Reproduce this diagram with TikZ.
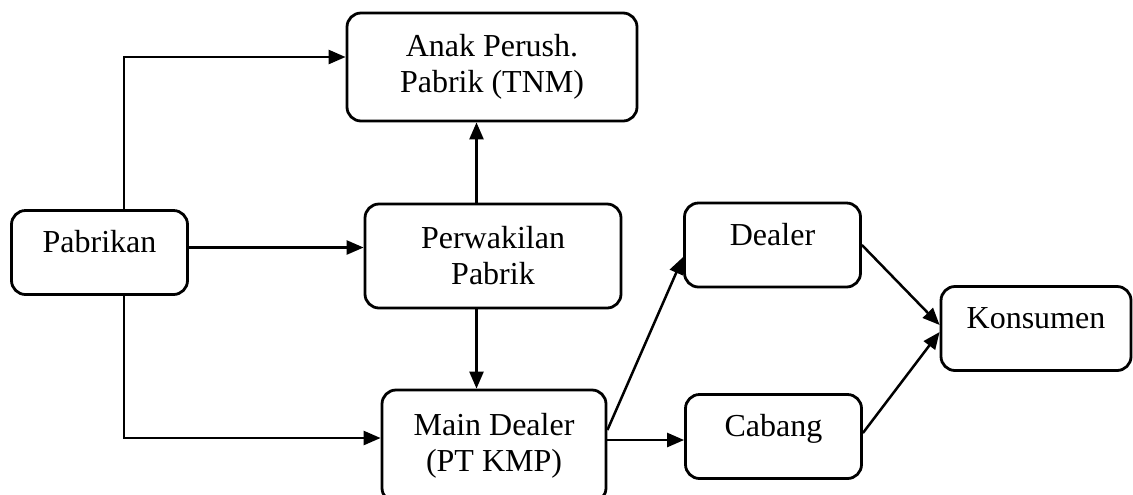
\documentclass[tikz,border=0pt]{standalone}
\usepackage{fontspec}
\setmainfont{Liberation Serif}
\usetikzlibrary{arrows.meta,calc}
\begin{document}
\begin{tikzpicture}[x=0.5pt,y=-0.5pt,
  box/.style={draw, line width=1.4pt, rounded corners=7pt, align=center, inner sep=0pt,
              font=\fontsize{16}{18}\selectfont},
  one/.style={box, text height=21pt, text depth=21pt},
  arr/.style={line width=1.25pt, -{Triangle[length=8.5pt,width=7pt]}}]
\useasboundingbox (0,0) rectangle (1133,494);
\clip (0,0) rectangle (1133,494);
% boxes
\node[box, minimum width=145pt, minimum height=54pt] (anak) at (492,67) {Anak Perush.\\Pabrik (TNM)};
\node[one, minimum width=88pt] (pab) at (99.5,252.5) {Pabrikan};
\node[box, minimum width=128pt, minimum height=52pt] (perw) at (493,256) {Perwakilan\\Pabrik};
\node[box, minimum width=112pt, minimum height=56pt] (md) at (494,446) {Main Dealer\\(PT KMP)};
\node[one, minimum width=88pt] (dealer) at (772.5,245) {Dealer};
\node[one, minimum width=88pt] (cabang) at (773.5,436.5) {Cabang};
\node[one, minimum width=95pt] (kons) at (1036,328.5) {Konsumen};
% helper coordinates
\coordinate (pt) at ($(pab.north)+(24.5,0)$);
\coordinate (pb) at ($(pab.south)+(24.5,0)$);
\coordinate (pe) at ($(pab.east)+(0,-5)$);
\coordinate (wt) at ($(perw.north)+(-16.5,0)$);
\coordinate (wb) at ($(perw.south)+(-16.5,0)$);
\coordinate (me) at ($(md.east)+(0,-6)$);
\coordinate (md1) at ($(md.east)+(0,-16)$);
\coordinate (cb) at ($(cabang.east)+(0,-3.5)$);
% connectors
\draw[arr] (pt) |- ($(anak.west)+(0,-10)$);
\draw[arr] (pe) -- (pe -| perw.west);
\draw[arr] (wt) -- (wt |- anak.south);
\draw[arr] (wb) -- (wb |- md.north);
\draw[arr] (pb) |- ($(md.west)+(0,-8)$);
\draw[arr] (md1) -- ($(dealer.west)+(0,12)$);
\draw[arr] (me) -- (me -| cabang.west);
\draw[arr] (dealer.east) -- ($(kons.west)+(0,-3.5)$);
\draw[arr] (cb) -- ($(kons.west)+(0,3.5)$);
\end{tikzpicture}
\end{document}
